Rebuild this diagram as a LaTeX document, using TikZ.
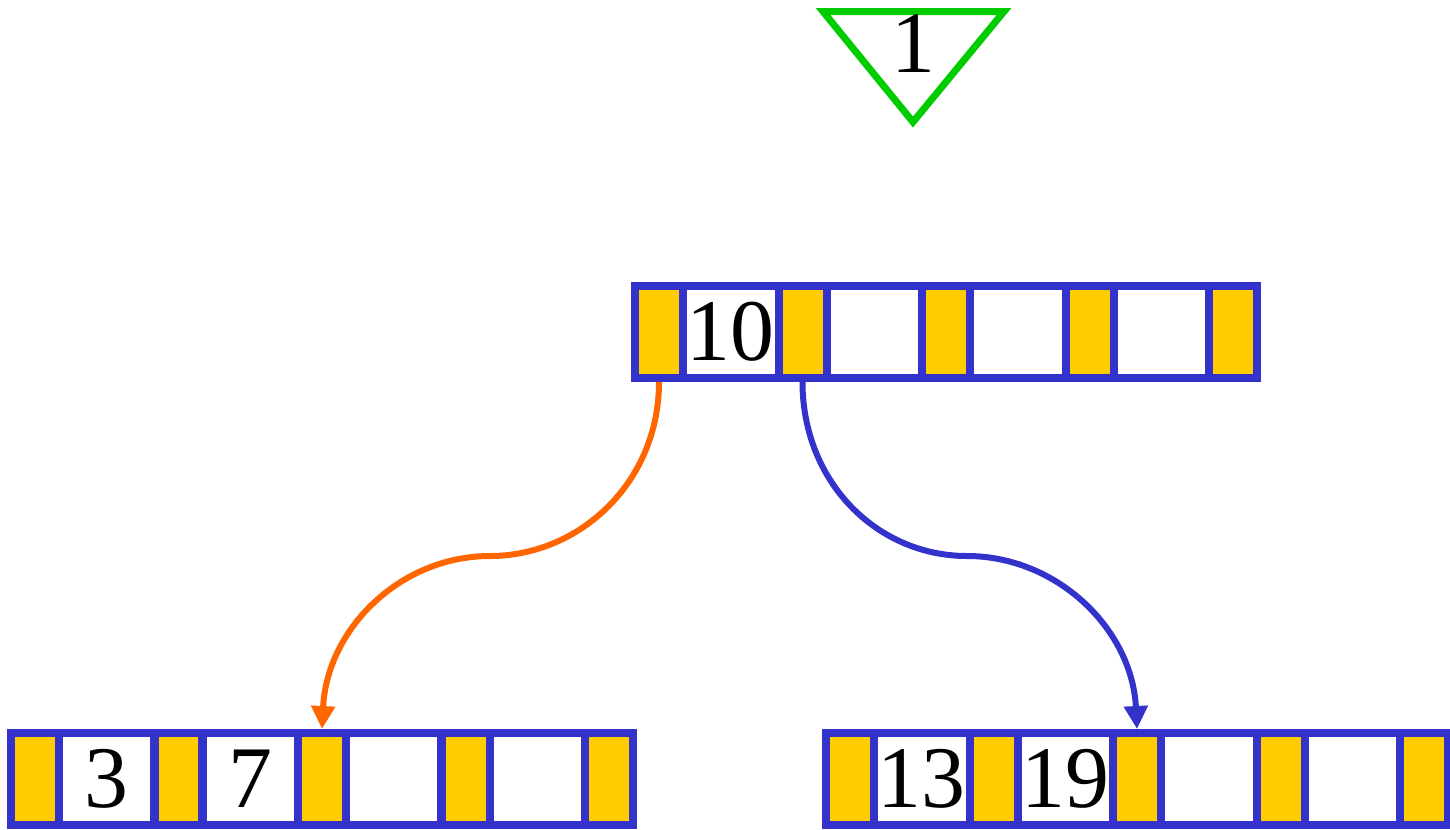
\documentclass[tikz,border=0pt]{standalone}
\usepackage{fontspec}
\setmainfont{Liberation Serif}
\usetikzlibrary{arrows.meta}

\definecolor{frameblue}{HTML}{3333CC}
\definecolor{ptryellow}{HTML}{FFCC00}
\definecolor{linkorange}{HTML}{FF6600}
\definecolor{rootgreen}{HTML}{00CC00}

\tikzset{
    cell/.style={draw=frameblue, line width=0.16cm, inner sep=0pt, minimum height=1.84cm},
    ptrcell/.style={cell, fill=ptryellow, minimum width=0.96cm},
    keycell/.style={cell, fill=white, minimum width=1.91cm, font=\fontsize{50}{60}\selectfont},
    link/.style={line width=0.12cm, -{Triangle[length=0.46cm, width=0.46cm]}}
}

\begin{document}
\begin{tikzpicture}[x=0.02cm, y=-0.02cm]
    \useasboundingbox (0,0) rectangle (1450,829);

    % Root pointer
    \draw[rootgreen, line width=0.14cm] (823,11.5) -- (1004,11.5) -- (913,122) -- cycle;
    \node[font=\fontsize{50}{60}\selectfont] (top) at (913,43) {1};

    % Root node
    \foreach \i in {0,...,4}
        \node[ptrcell] (r-p\i) at (659+143.5*\i, 332) {};
    \foreach \i/\k in {1/10, 2/{}, 3/{}, 4/{}}
        \node[keycell] (r-k\i) at (587.25+143.5*\i, 332) {\k};

    % Left leaf
    \foreach \i in {0,...,4}
        \node[ptrcell] (a-p\i) at (35+143.5*\i, 779) {};
    \foreach \i/\k in {1/3, 2/7, 3/{}, 4/{}}
        \node[keycell] (a-k\i) at (-36.75+143.5*\i, 779) {\k};

    % Right leaf
    \foreach \i in {0,...,4}
        \node[ptrcell] (b-p\i) at (850+143.5*\i, 779) {};
    \foreach \i/\k in {1/13, 2/19, 3/{}, 4/{}}
        \node[keycell] (b-k\i) at (778.25+143.5*\i, 779) {\k};

    % Child pointers
    \coordinate (lmid) at (490,556);
    \coordinate (rmid) at (967,556);
    \draw[link, linkorange] (r-p0.south) .. controls +(0,100) and +(90,0) .. (lmid)
        .. controls +(-90,0) and +(5,-100) .. (a-p2.north);
    \draw[link, frameblue] (r-p1.south) .. controls +(0,100) and +(-90,0) .. (rmid)
        .. controls +(90,0) and +(-5,-100) .. (b-p2.north);
\end{tikzpicture}
\end{document}
